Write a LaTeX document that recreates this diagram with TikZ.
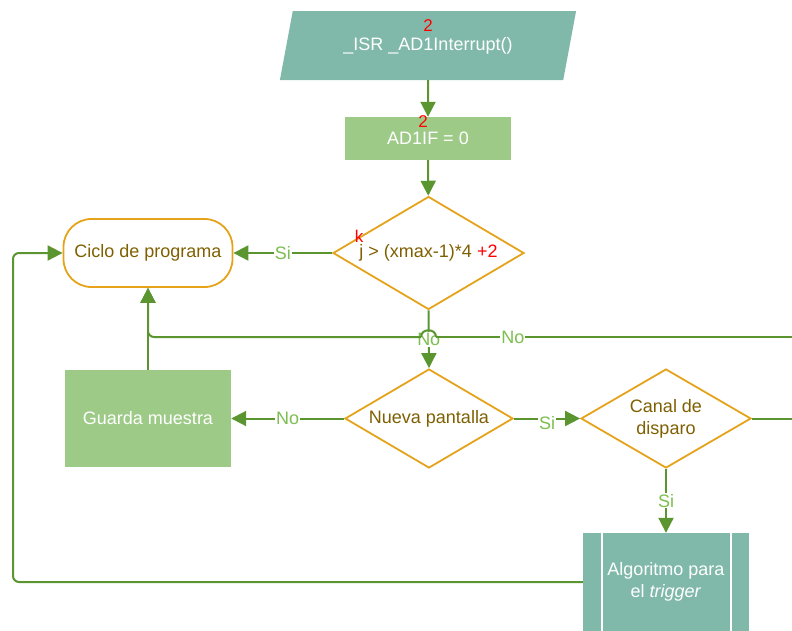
\documentclass[tikz,border=0pt]{standalone}
\usepackage{fontspec}
\setmainfont{Liberation Sans}
\usetikzlibrary{shapes.geometric,arrows.meta}

\definecolor{tealfill}{HTML}{80B9AA}
\definecolor{greenfill}{HTML}{9DCA87}
\definecolor{linegreen}{HTML}{5A9530}
\definecolor{labgreen}{HTML}{7DBE50}
\definecolor{gold}{HTML}{E4A31B}
\definecolor{browntxt}{HTML}{7F6000}

\tikzset{
  base/.style={font=\fontsize{18}{22}\selectfont, inner sep=0pt, align=center},
  io/.style={base, trapezium, trapezium left angle=64.4, trapezium right angle=115.6,
    trapezium stretches=true, fill=tealfill, text=white, minimum width=297pt, minimum height=69pt},
  procbox/.style={base, rectangle, fill=greenfill, text=white},
  predef/.style={base, rectangle, fill=tealfill, text=white},
  decision/.style={base, diamond, aspect=1.7, draw=gold, line width=1.8pt, text=browntxt, fill=white},
  terminal/.style={base, rectangle, rounded corners=28pt, draw=gold, line width=1.8pt, text=browntxt},
  redmark/.style={font=\fontsize{17}{20}\selectfont, inner sep=0pt, text=red},
  flow/.style={draw=linegreen, line width=2pt},
  flowarr/.style={flow, -{Triangle[length=15pt,width=15pt]}},
  lab/.style={font=\fontsize{18}{22}\selectfont, text=labgreen, fill=white, inner sep=1pt}
}

\begin{document}
\begin{tikzpicture}[x=1pt,y=-1pt]
\useasboundingbox (0,0) rectangle (792,630);

% blocks
\node[io] (isr) at (428,45.5) {\_ISR \_AD1Interrupt()};
\node[redmark] (isrnum) at (428,26) {2};

\node[procbox, minimum width=166pt, minimum height=43pt] (ad1) at (428,138.5) {AD1IF = 0};
\node[redmark] (ad1num) at (423,122) {2};

\node[decision, minimum width=191pt, minimum height=113pt] (d1) at (428.5,253)
  {j > (xmax-1)*4 {\color{red}+2}};
\node[redmark] (knum) at (359,236) {k};

\node[terminal, minimum width=169pt, minimum height=68pt] (ciclo) at (148,253) {Ciclo de programa};

\node[procbox, minimum width=166pt, minimum height=97pt] (guarda) at (148,418.5) {Guarda muestra};

\node[decision, minimum width=168pt, minimum height=99pt] (nueva) at (429,418.5) {Nueva pantalla};

\node[decision, minimum width=170pt, minimum height=99pt] (canal) at (666,418.5) {Canal de\\disparo};

\node[predef, minimum width=166pt, minimum height=98pt] (algo) at (666,582) {Algoritmo para\\el \textit{trigger}};
\draw[white, line width=1.5pt] ([xshift=19pt]algo.north west) -- ([xshift=19pt]algo.south west);
\draw[white, line width=1.5pt] ([xshift=-18pt]algo.north east) -- ([xshift=-18pt]algo.south east);

% free ends and bends
\coordinate (eR) at (792,337);
\coordinate (hopR) at (436,337);
\coordinate (hopL) at (421,337);
\coordinate (cR) at (792,418.5);
\coordinate (lx) at (13,0);

% connectors
\draw[flowarr] (isr) -- (ad1);
\draw[flowarr] (ad1) -- (d1);
\draw[flowarr] (d1.west) -- node[lab] {Si} (ciclo.east);
\draw[flowarr] (d1.south) -- node[lab] {No} (nueva.north);
\draw[flowarr] (guarda.north) -- (ciclo.south);
\draw[flow] (eR) -- node[lab, pos=0.784] {No} (hopR);
\draw[flow] (hopR) .. controls (436,328) and (421,328) .. (hopL);
\draw[flowarr, rounded corners=6pt] (hopL) -- (hopL -| ciclo.south) -- (ciclo.south);
\draw[flowarr] (nueva.west) -- node[lab] {No} (guarda.east);
\draw[flowarr] (nueva.east) -- node[lab, yshift=-5pt] {Si} (canal.west);
\draw[flow] (canal.east) -- (cR);
\draw[flowarr] (canal.south) -- node[lab] {Si} (algo.north);
\draw[flowarr, rounded corners=6pt] (algo.west) -- (algo.west -| lx) |- (ciclo.west);
\end{tikzpicture}
\end{document}
